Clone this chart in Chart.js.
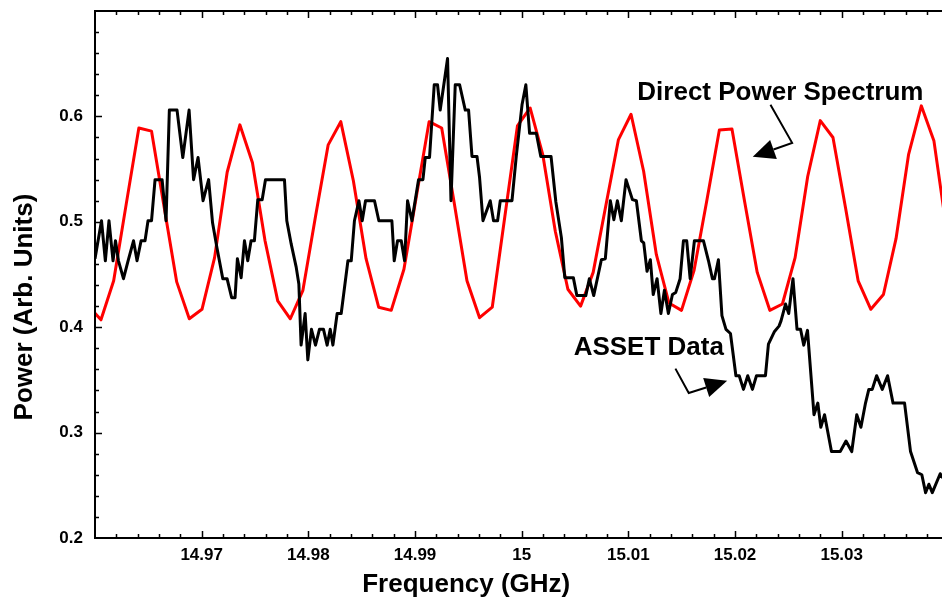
<!DOCTYPE html>
<html lang="en">
<head>
<meta charset="UTF-8">
<title>ASSET Data vs Direct Power Spectrum</title>
<script src="https://cdn.jsdelivr.net/npm/chart.js@4.4.1/dist/chart.umd.min.js"></script>
<style>
  html, body { margin: 0; padding: 0; background: #fff; overflow: hidden; }
  #wrap { width: 942px; height: 598px; }
</style>
</head>
<body>
<div id="wrap"><canvas id="chart" width="942" height="598"></canvas></div>
<script>
// Direct power spectrum (red), frequency in GHz
const spectrumFreq = [14.95938, 14.96056, 14.96175, 14.96293, 14.96411, 14.96530, 14.96648, 14.96766, 14.96884,
  14.97003, 14.97121, 14.97239, 14.97358, 14.97476, 14.97594, 14.97713, 14.97831, 14.97949, 14.98067, 14.98186,
  14.98304, 14.98422, 14.98541, 14.98659, 14.98777, 14.98896, 14.99014, 14.99132, 14.99250, 14.99369, 14.99487,
  14.99605, 14.99724, 14.99842, 14.99960, 15.00079, 15.00197, 15.00315, 15.00433, 15.00552, 15.00670, 15.00788,
  15.00907, 15.01025, 15.01143, 15.01262, 15.01380, 15.01498, 15.01616, 15.01735, 15.01853, 15.01971, 15.02090,
  15.02208, 15.02326, 15.02444, 15.02563, 15.02681, 15.02799, 15.02918, 15.03036, 15.03154, 15.03273, 15.03391,
  15.03509, 15.03627, 15.03746, 15.03864, 15.03982];
const spectrumPower = [0.420, 0.407, 0.444, 0.517, 0.589, 0.586, 0.514, 0.443, 0.408,
  0.417, 0.466, 0.547, 0.592, 0.556, 0.482, 0.425, 0.408, 0.435, 0.505, 0.573,
  0.595, 0.539, 0.465, 0.419, 0.416, 0.455, 0.525, 0.595, 0.589, 0.517, 0.444,
  0.409, 0.419, 0.505, 0.591, 0.608, 0.564, 0.491, 0.436, 0.420, 0.452, 0.515,
  0.578, 0.602, 0.548, 0.469, 0.423, 0.416, 0.454, 0.520, 0.587, 0.588, 0.519,
  0.452, 0.416, 0.422, 0.466, 0.543, 0.596, 0.580, 0.513, 0.444, 0.417, 0.431,
  0.484, 0.564, 0.610, 0.577, 0.493];

// ASSET data (black)
const assetFreq = [14.96000, 14.96061, 14.96097, 14.96131, 14.96169, 14.96192, 14.96220, 14.96267, 14.96310, 14.96361,
  14.96394, 14.96432, 14.96469, 14.96497, 14.96530, 14.96563, 14.96629, 14.96666, 14.96697, 14.96769,
  14.96823, 14.96882, 14.96924, 14.96966, 14.97013, 14.97065, 14.97102, 14.97144, 14.97198, 14.97238,
  14.97281, 14.97313, 14.97335, 14.97370, 14.97401, 14.97432, 14.97463, 14.97494, 14.97526, 14.97567,
  14.97598, 14.97776, 14.97798, 14.97839, 14.97886, 14.97911, 14.97932, 14.97970, 14.97995, 14.98029,
  14.98067, 14.98104, 14.98142, 14.98176, 14.98205, 14.98230, 14.98270, 14.98308, 14.98371, 14.98402,
  14.98432, 14.98474, 14.98505, 14.98536, 14.98620, 14.98661, 14.98783, 14.98805, 14.98836, 14.98871,
  14.98902, 14.98930, 14.98971, 14.99033, 14.99074, 14.99096, 14.99136, 14.99180, 14.99211, 14.99236,
  14.99305, 14.99337, 14.99377, 14.99418, 14.99471, 14.99502, 14.99534, 14.99581, 14.99605, 14.99637,
  14.99705, 14.99736, 14.99774, 14.99799, 14.99909, 14.99949, 15.00003, 15.00039, 15.00074, 15.00137,
  15.00179, 15.00275, 15.00320, 15.00372, 15.00404, 15.00484, 15.00517, 15.00601, 15.00634, 15.00675,
  15.00747, 15.00784, 15.00831, 15.00864, 15.00897, 15.00934, 15.00978, 15.01038, 15.01075, 15.01122,
  15.01144, 15.01175, 15.01206, 15.01233, 15.01269, 15.01305, 15.01338, 15.01375, 15.01413, 15.01444,
  15.01485, 15.01516, 15.01547, 15.01579, 15.01619, 15.01704, 15.01751, 15.01788, 15.01807, 15.01844,
  15.01877, 15.01915, 15.01957, 15.02008, 15.02039, 15.02079, 15.02119, 15.02163, 15.02201, 15.02285,
  15.02313, 15.02370, 15.02412, 15.02431, 15.02473, 15.02503, 15.02543, 15.02581, 15.02614, 15.02644,
  15.02679, 15.02740, 15.02776, 15.02804, 15.02839, 15.02904, 15.02986, 15.03040, 15.03094, 15.03141,
  15.03180, 15.03223, 15.03254, 15.03286, 15.03327, 15.03380, 15.03430, 15.03481, 15.03589, 15.03645,
  15.03711, 15.03751, 15.03786, 15.03817, 15.03849, 15.03923, 15.03946];
const assetPower = [0.465, 0.501, 0.463, 0.501, 0.463, 0.482, 0.463, 0.446, 0.463, 0.482,
  0.463, 0.482, 0.482, 0.501, 0.501, 0.540, 0.540, 0.501, 0.606, 0.606,
  0.561, 0.606, 0.540, 0.561, 0.520, 0.540, 0.499, 0.475, 0.446, 0.446,
  0.428, 0.428, 0.465, 0.447, 0.482, 0.463, 0.482, 0.482, 0.521, 0.521,
  0.540, 0.540, 0.501, 0.479, 0.457, 0.441, 0.383, 0.413, 0.369, 0.398,
  0.383, 0.398, 0.398, 0.383, 0.398, 0.383, 0.413, 0.413, 0.463, 0.463,
  0.501, 0.520, 0.501, 0.520, 0.520, 0.501, 0.501, 0.463, 0.482, 0.482,
  0.463, 0.520, 0.501, 0.540, 0.540, 0.561, 0.561, 0.630, 0.630, 0.606,
  0.655, 0.520, 0.630, 0.630, 0.606, 0.606, 0.562, 0.562, 0.542, 0.501,
  0.520, 0.501, 0.501, 0.520, 0.520, 0.562, 0.611, 0.630, 0.584, 0.584,
  0.562, 0.562, 0.519, 0.485, 0.447, 0.447, 0.430, 0.430, 0.446, 0.430,
  0.464, 0.465, 0.520, 0.502, 0.520, 0.501, 0.540, 0.521, 0.520, 0.482,
  0.480, 0.453, 0.464, 0.431, 0.446, 0.413, 0.435, 0.413, 0.431, 0.433,
  0.446, 0.482, 0.482, 0.446, 0.482, 0.482, 0.463, 0.446, 0.446, 0.464,
  0.411, 0.398, 0.394, 0.354, 0.354, 0.341, 0.354, 0.341, 0.354, 0.354,
  0.384, 0.396, 0.401, 0.406, 0.422, 0.413, 0.446, 0.398, 0.398, 0.383,
  0.397, 0.317, 0.328, 0.305, 0.317, 0.282, 0.282, 0.292, 0.282, 0.317,
  0.305, 0.328, 0.341, 0.341, 0.354, 0.341, 0.354, 0.328, 0.328, 0.282,
  0.262, 0.260, 0.243, 0.251, 0.243, 0.261, 0.257];

// tick labels
const xLabels = ['14.97', '14.98', '14.99', '15', '15.01', '15.02', '15.03'];
const yLabels = ['0.2', '0.3', '0.4', '0.5', '0.6'];

const FONT = '"Liberation Sans", Arial, Helvetica, sans-serif';

// frame, inward ticks, axis titles and the two labelled arrows
const decorPlugin = {
  id: 'decor',
  afterDraw(chart) {
    const { ctx, chartArea: a, scales: { x, y } } = chart;
    ctx.save();
    ctx.strokeStyle = '#000';
    ctx.fillStyle = '#000';

    // axes lines (left, bottom, top)
    ctx.lineWidth = 2;
    ctx.beginPath();
    ctx.moveTo(a.right + 1, a.top); ctx.lineTo(a.left, a.top);
    ctx.lineTo(a.left, a.bottom); ctx.lineTo(a.right + 1, a.bottom);
    ctx.stroke();

    // ticks pointing inside
    ctx.lineWidth = 1.5;
    ctx.beginPath();
    for (let i = 1; i <= 40; i++) {
      const px = Math.round(x.getPixelForValue(14.96 + i * 0.002)) + 0.5;
      if (px > a.right) break;
      const len = i % 5 === 0 ? 7 : 4;
      ctx.moveTo(px, a.bottom); ctx.lineTo(px, a.bottom - len);
      ctx.moveTo(px, a.top); ctx.lineTo(px, a.top + len);
    }
    for (let i = 1; i < 25; i++) {
      const py = Math.round(y.getPixelForValue(0.2 + i * 0.02)) + 0.5;
      const len = i % 5 === 0 ? 7 : 4;
      ctx.moveTo(a.left, py); ctx.lineTo(a.left + len, py);
    }
    ctx.stroke();

    // axis titles
    ctx.font = 'bold 26px ' + FONT;
    ctx.textAlign = 'center';
    ctx.textBaseline = 'alphabetic';
    ctx.fillText('Frequency (GHz)', x.getPixelForValue(14.9948), 592);
    ctx.save();
    ctx.translate(32, y.getPixelForValue(0.4191));
    ctx.rotate(-Math.PI / 2);
    ctx.fillText('Power (Arb. Units)', 0, 0);
    ctx.restore();

    // annotations
    ctx.textAlign = 'left';
    ctx.fillText('Direct Power Spectrum', x.getPixelForValue(15.01084), y.getPixelForValue(0.6152));
    ctx.fillText('ASSET Data', x.getPixelForValue(15.00487), y.getPixelForValue(0.3733));

    const arrow = (pts) => {
      const p = pts.map(([fx, fy]) => [x.getPixelForValue(fx), y.getPixelForValue(fy)]);
      const [tx, ty] = p[p.length - 1];
      const [bx, by] = p[p.length - 2];
      const ang = Math.atan2(ty - by, tx - bx);
      const headLen = 22, half = 10;
      const hx = tx - headLen * Math.cos(ang), hy = ty - headLen * Math.sin(ang);
      ctx.lineWidth = 2;
      ctx.beginPath();
      ctx.moveTo(p[0][0], p[0][1]);
      for (let i = 1; i < p.length - 1; i++) ctx.lineTo(p[i][0], p[i][1]);
      ctx.lineTo(hx, hy);
      ctx.stroke();
      ctx.beginPath();
      ctx.moveTo(tx, ty);
      ctx.lineTo(hx + half * Math.sin(ang), hy - half * Math.cos(ang));
      ctx.lineTo(hx - half * Math.sin(ang), hy + half * Math.cos(ang));
      ctx.closePath();
      ctx.fill();
    };
    arrow([[15.02332, 0.6111], [15.02535, 0.5749], [15.02166, 0.5616]]);
    arrow([[15.01441, 0.3607], [15.01566, 0.3376], [15.01926, 0.3491]]);

    ctx.restore();
  }
};

const tickFont = { family: FONT, size: 17, weight: 'bold' };

new Chart(document.getElementById('chart'), {
  type: 'line',
  data: {
    datasets: [
      {
        label: 'ASSET Data',
        data: assetFreq.map((f, i) => ({ x: f, y: assetPower[i] })),
        borderColor: '#000000',
        borderWidth: 3,
        order: 0
      },
      {
        label: 'Direct Power Spectrum',
        data: spectrumFreq.map((f, i) => ({ x: f, y: spectrumPower[i] })),
        borderColor: '#ff0000',
        borderWidth: 3,
        order: 1
      }
    ]
  },
  options: {
    responsive: false,
    animation: false,
    layout: { padding: { top: 11, right: 0, left: 0, bottom: 0 } },
    plugins: { legend: { display: false }, tooltip: { enabled: false } },
    elements: {
      point: { radius: 0 },
      line: { tension: 0, fill: false, borderJoinStyle: 'round' }
    },
    scales: {
      x: {
        type: 'linear',
        min: 14.96,
        max: 15.0394,
        grid: { display: false, drawTicks: false },
        border: { display: false },
        ticks: {
          stepSize: 0.01,
          includeBounds: false,
          autoSkip: false,
          maxRotation: 0,
          padding: 7,
          color: '#000',
          font: tickFont,
          callback: (v) => {
            const s = String(+v.toFixed(2));
            return xLabels.includes(s) ? s : '';
          }
        },
        afterFit: (s) => { s.height = 60; s.paddingLeft = 0; s.paddingRight = 0; }
      },
      y: {
        min: 0.2,
        max: 0.7,
        grid: { display: false, drawTicks: false },
        border: { display: false },
        ticks: {
          stepSize: 0.1,
          padding: 12,
          color: '#000',
          font: tickFont,
          callback: (v) => {
            const s = String(+v.toFixed(1));
            return yLabels.includes(s) ? s : '';
          }
        },
        afterFit: (s) => { s.width = 95; s.paddingTop = 0; s.paddingBottom = 0; }
      }
    }
  },
  plugins: [decorPlugin]
});
</script>
</body>
</html>
